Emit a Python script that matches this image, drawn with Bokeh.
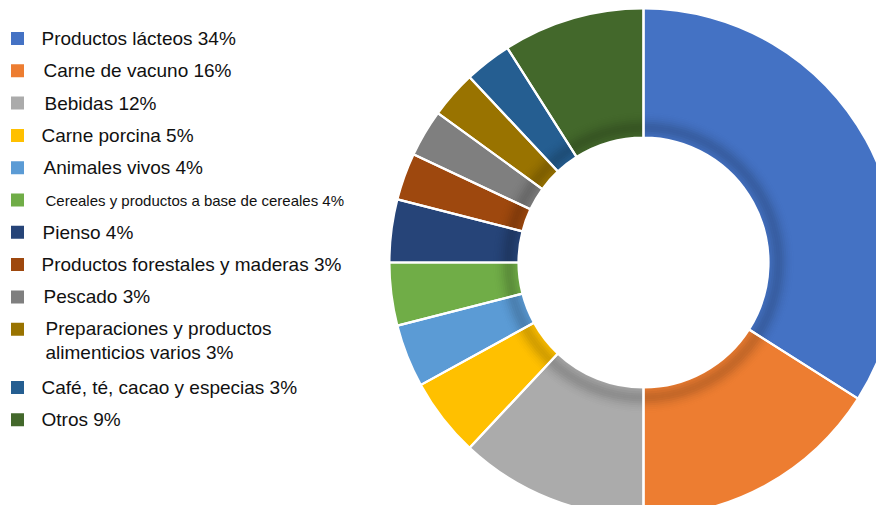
import numpy as np
from bokeh.plotting import figure
from bokeh.models import Range1d, ColumnDataSource
from bokeh.core.properties import value
from bokeh.embed import file_html
from bokeh.resources import INLINE

# ---- data ----
names = ["Productos lácteos", "Carne de vacuno", "Bebidas", "Carne porcina",
         "Animales vivos", "Cereales y productos a base de cereales", "Pienso",
         "Productos forestales y maderas", "Pescado",
         "Preparaciones y productos\nalimenticios varios",
         "Café, té, cacao y especias", "Otros"]
shares = [34, 16, 12, 5, 4, 4, 4, 3, 3, 3, 3, 9]
colors = ["#4472C4", "#ED7D31", "#ABABAB", "#FFC000", "#5B9BD5", "#70AD47",
          "#264478", "#9E480E", "#7F7F7F", "#997300", "#255E91", "#43682B"]

# ---- layout (screen-pixel coordinates mapped 1:1) ----
W, H = 876, 505
def sy(y):  # screen y -> data y
    return H - y

p = figure(width=W, height=H, x_range=Range1d(0, W), y_range=Range1d(0, H),
           output_backend="svg", toolbar_location=None,
           x_axis_location=None, y_axis_location=None, min_border=0)
p.grid.visible = False
p.outline_line_color = None
p.background_fill_color = "white"
p.border_fill_color = "white"

vals = np.array(shares, dtype=float)
cum = np.cumsum(vals)
tot = vals.sum()
start = np.pi / 2 - 2 * np.pi * (cum - vals) / tot
end = np.pi / 2 - 2 * np.pi * cum / tot

cx, cy = 643, sy(262)
r_in, r_out = 125, 253

src = ColumnDataSource(dict(start=start, end=end, color=colors,
                            x=[cx] * len(vals), y=[cy] * len(vals)))
p.annular_wedge(x="x", y="y", inner_radius=r_in, outer_radius=r_out,
                start_angle="start", end_angle="end", direction="clock",
                fill_color="color", line_color=None, source=src)

# inner shadow rings
for k in range(14):
    ri = r_in + k * 2
    a = 0.17 * np.exp(-((k * 2 - 9) / 8.0) ** 2)
    p.annulus(x=cx, y=cy, inner_radius=ri, outer_radius=ri + 2,
              fill_color="black", fill_alpha=a, line_color=None)

# separators
p.annular_wedge(x="x", y="y", inner_radius=r_in, outer_radius=r_out + 2,
                start_angle="start", end_angle="end", direction="clock",
                fill_alpha=0, line_color="white", line_width=2.2, source=src)

# ---- legend ----
line_h = 22
row_y, text_y = [], []
for i, n in enumerate(names):
    y = 38 + 32.3 * i + (26 if i > 9 else 0)
    row_y.append(y)
    nl = n.count("\n")
    text_y.append(y + nl * line_h / 2)
fsizes = ["19px"] * len(names)
fsizes[5] = "15px"
labels = [f"{n} {s}%" for n, s in zip(names, shares)]
tx = [41, 43, 44, 41, 43, 45, 42, 41, 43, 45, 41, 41]

leg = ColumnDataSource(dict(
    sx=[17] * len(names), sqy=[sy(y) for y in row_y],
    tx=tx, ty=[sy(y) for y in text_y],
    label=labels, color=colors, fs=fsizes))
p.scatter(x="sx", y="sqy", marker="square", size=13, fill_color="color",
          line_color=None, source=leg)
p.text(x="tx", y="ty", text="label", text_font=value("Liberation Sans"),
       text_font_size="fs", text_baseline="middle", text_color="#111111",
       text_line_height=1.16, source=leg)

open("out.html", "w").write(file_html(p, INLINE))
